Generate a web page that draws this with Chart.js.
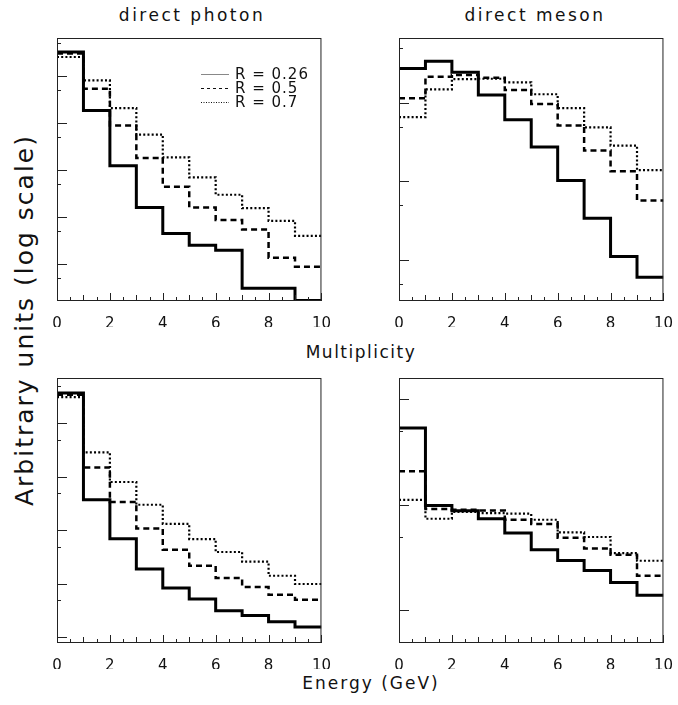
<!DOCTYPE html>
<html>
<head>
<meta charset="utf-8">
<script src="https://cdn.jsdelivr.net/npm/chart.js@4.4.0/dist/chart.umd.min.js"></script>
<style>
  body { margin: 0; background: #fff; }
  #fig { position: relative; width: 678px; height: 705px; font-family: "DejaVu Sans", sans-serif; color: #111; }
  #fig canvas { position: absolute; }
  .lbl { position: absolute; white-space: nowrap; transform: translate(-50%, -50%); }
  .rot { transform: translate(-50%, -50%) rotate(-90deg); }
</style>
</head>
<body>
<div id="fig">
  <div class="lbl" style="left:192px; top:15px; font-size:17px; letter-spacing:2.5px">direct photon</div>
  <div class="lbl" style="left:535px; top:15px; font-size:17px; letter-spacing:2.5px">direct meson</div>
  <div class="lbl" style="left:361px; top:352px; font-size:17px; letter-spacing:1.5px">Multiplicity</div>
  <div class="lbl" style="left:371px; top:683px; font-size:17px; letter-spacing:2px">Energy (GeV)</div>
  <div class="lbl rot" style="left:24px; top:320px; font-size:25px; letter-spacing:2px">Arbitrary units (log scale)</div>

  <canvas id="photonMult" width="294" height="295" style="left:43px; top:32px"></canvas>
  <canvas id="mesonMult" width="294" height="295" style="left:385px; top:32px"></canvas>
  <canvas id="photonEnergy" width="294" height="297" style="left:43px; top:372px"></canvas>
  <canvas id="mesonEnergy" width="294" height="297" style="left:385px; top:372px"></canvas>
</div>

<script>
// bin edges shared by every histogram (10 bins)
const binEdges = [0, 1, 2, 3, 4, 5, 6, 7, 8, 9, 10];
const radii = ["R = 0.26", "R = 0.5", "R = 0.7"];

// direct photon, multiplicity
const photonMultR026 = [31800, 1830, 123, 16.0, 4.48, 2.54, 1.99, 0.308, 0.308, 0.17];
const photonMultR05 = [29400, 5290, 877, 180, 44.2, 16.0, 8.63, 5.45, 1.38, 0.889];
const photonMultR07 = [24900, 7940, 2045, 564, 185, 69.6, 29.8, 15.5, 8.34, 4.0];

// direct meson, multiplicity
const mesonMultR026 = [275, 340, 245, 126, 61, 27.5, 10.3, 3.4, 1.11, 0.6];
const mesonMultR05 = [115, 215, 226, 209, 146, 97, 51.6, 24.7, 13.5, 5.7];
const mesonMultR07 = [65.9, 149, 201, 203, 183, 129, 85.7, 48.7, 28.6, 13.9];

// direct photon, energy
const photonEnergyR026 = [37000, 375, 70, 19.0, 8.38, 5.22, 3.16, 2.58, 1.97, 1.56];
const photonEnergyR05 = [34400, 1506, 340, 109, 43.6, 21.9, 12.9, 8.75, 6.28, 5.07];
const photonEnergyR07 = [31100, 2870, 803, 302, 133, 69, 39.5, 26, 14.2, 9.96];

// direct meson, energy
const mesonEnergyR026 = [532, 98.5, 87.7, 73.7, 54.0, 37.5, 29.7, 23.9, 18.4, 13.9];
const mesonEnergyR05 = [207, 91.0, 89.7, 88.3, 72.1, 65.6, 48.7, 38.6, 33.6, 21.3];
const mesonEnergyR07 = [111, 73.7, 85.3, 83.4, 82.2, 72.1, 54.7, 49.5, 34.9, 29.5];

const lineStyles = [
  { borderWidth: 3, borderDash: [] },
  { borderWidth: 2.5, borderDash: [6, 4] },
  { borderWidth: 2.2, borderDash: [2, 2.2] },
];

function steps(vals) {
  return binEdges.map((e, i) => ({ x: e, y: vals[Math.min(i, vals.length - 1)] }));
}

// box around the plot + inward tick marks, like the original
const framePlugin = {
  id: "frame",
  afterDatasetsDraw(chart) {
    const { ctx, chartArea: a, scales: { x, y } } = chart;
    ctx.save();
    ctx.strokeStyle = "#222";
    ctx.lineWidth = 1;
    ctx.setLineDash([]);
    ctx.strokeRect(a.left + 0.5, a.top + 0.5, a.width - 1, a.height - 1);
    for (let v = 0; v <= 10; v += 0.5) {
      const px = Math.round(x.getPixelForValue(v)) + 0.5;
      const len = v % 2 === 0 ? 8 : v % 1 === 0 ? 6 : 4;
      ctx.beginPath();
      ctx.moveTo(px, a.bottom);
      ctx.lineTo(px, a.bottom - len);
      ctx.stroke();
    }
    const lo = Math.floor(Math.log10(y.min));
    const hi = Math.ceil(Math.log10(y.max));
    for (let n = lo; n <= hi; n++) {
      [[1, 10], [5, 4]].forEach(([m, len]) => {
        const v = m * Math.pow(10, n);
        if (v <= y.min || v >= y.max) return;
        const py = Math.round(y.getPixelForValue(v)) + 0.5;
        ctx.beginPath();
        ctx.moveTo(a.left, py);
        ctx.lineTo(a.left + len, py);
        ctx.stroke();
      });
    }
    ctx.restore();
  },
};

// small legend inside the first panel
const legendPlugin = {
  id: "rLegend",
  afterDraw(chart) {
    const { ctx, chartArea: a } = chart;
    ctx.save();
    ctx.font = '15px "DejaVu Sans"';
    ctx.letterSpacing = "1px";
    ctx.fillStyle = "#111";
    ctx.textBaseline = "middle";
    chart.data.datasets.forEach((ds, i) => {
      const yy = a.top + 36 + i * 14;
      ctx.strokeStyle = i === 0 ? "#888" : "#111";
      ctx.lineWidth = 1;
      ctx.setLineDash(i === 0 ? [] : i === 1 ? [3, 3] : [1, 1.5]);
      ctx.beginPath();
      ctx.moveTo(a.left + 144, yy + 0.5);
      ctx.lineTo(a.left + 172, yy + 0.5);
      ctx.stroke();
      ctx.fillText(ds.label, a.left + 178, yy + 1);
    });
    ctx.restore();
  },
};

function makeChart(id, series, yMin, yMax, withLegend) {
  const plugins = [framePlugin];
  if (withLegend) plugins.push(legendPlugin);
  return new Chart(document.getElementById(id), {
    type: "line",
    data: {
      datasets: series.map((vals, i) => ({
        label: radii[i],
        data: steps(vals),
        stepped: true,
        borderColor: "#000",
        borderWidth: lineStyles[i].borderWidth,
        borderDash: lineStyles[i].borderDash,
        pointRadius: 0,
        fill: false,
      })),
    },
    options: {
      responsive: false,
      animation: false,
      devicePixelRatio: 1,
      layout: { padding: { left: 14, right: 14, top: 6, bottom: 0 } },
      plugins: { legend: { display: false }, tooltip: { enabled: false } },
      scales: {
        x: {
          type: "linear",
          min: 0,
          max: 10,
          grid: { display: false },
          border: { display: false },
          ticks: {
            stepSize: 2,
            padding: 6,
            color: "#111",
            font: { family: "DejaVu Sans", size: 15 },
            maxRotation: 0,
          },
          afterFit: (s) => { s.height = 26; },
        },
        y: {
          type: "logarithmic",
          min: yMin,
          max: yMax,
          grid: { display: false },
          border: { display: false },
          ticks: { display: false },
          afterFit: (s) => { s.width = 0; },
        },
      },
    },
    plugins: plugins,
  });
}

makeChart("photonMult", [photonMultR026, photonMultR05, photonMultR07], 0.166, 63000, true);
makeChart("mesonMult", [mesonMultR026, mesonMultR05, mesonMultR07], 0.305, 671, false);
makeChart("photonEnergy", [photonEnergyR026, photonEnergyR05, photonEnergyR07], 0.786, 70600, false);
makeChart("mesonEnergy", [mesonEnergyR026, mesonEnergyR05, mesonEnergyR07], 4.92, 1580, false);
</script>
</body>
</html>
